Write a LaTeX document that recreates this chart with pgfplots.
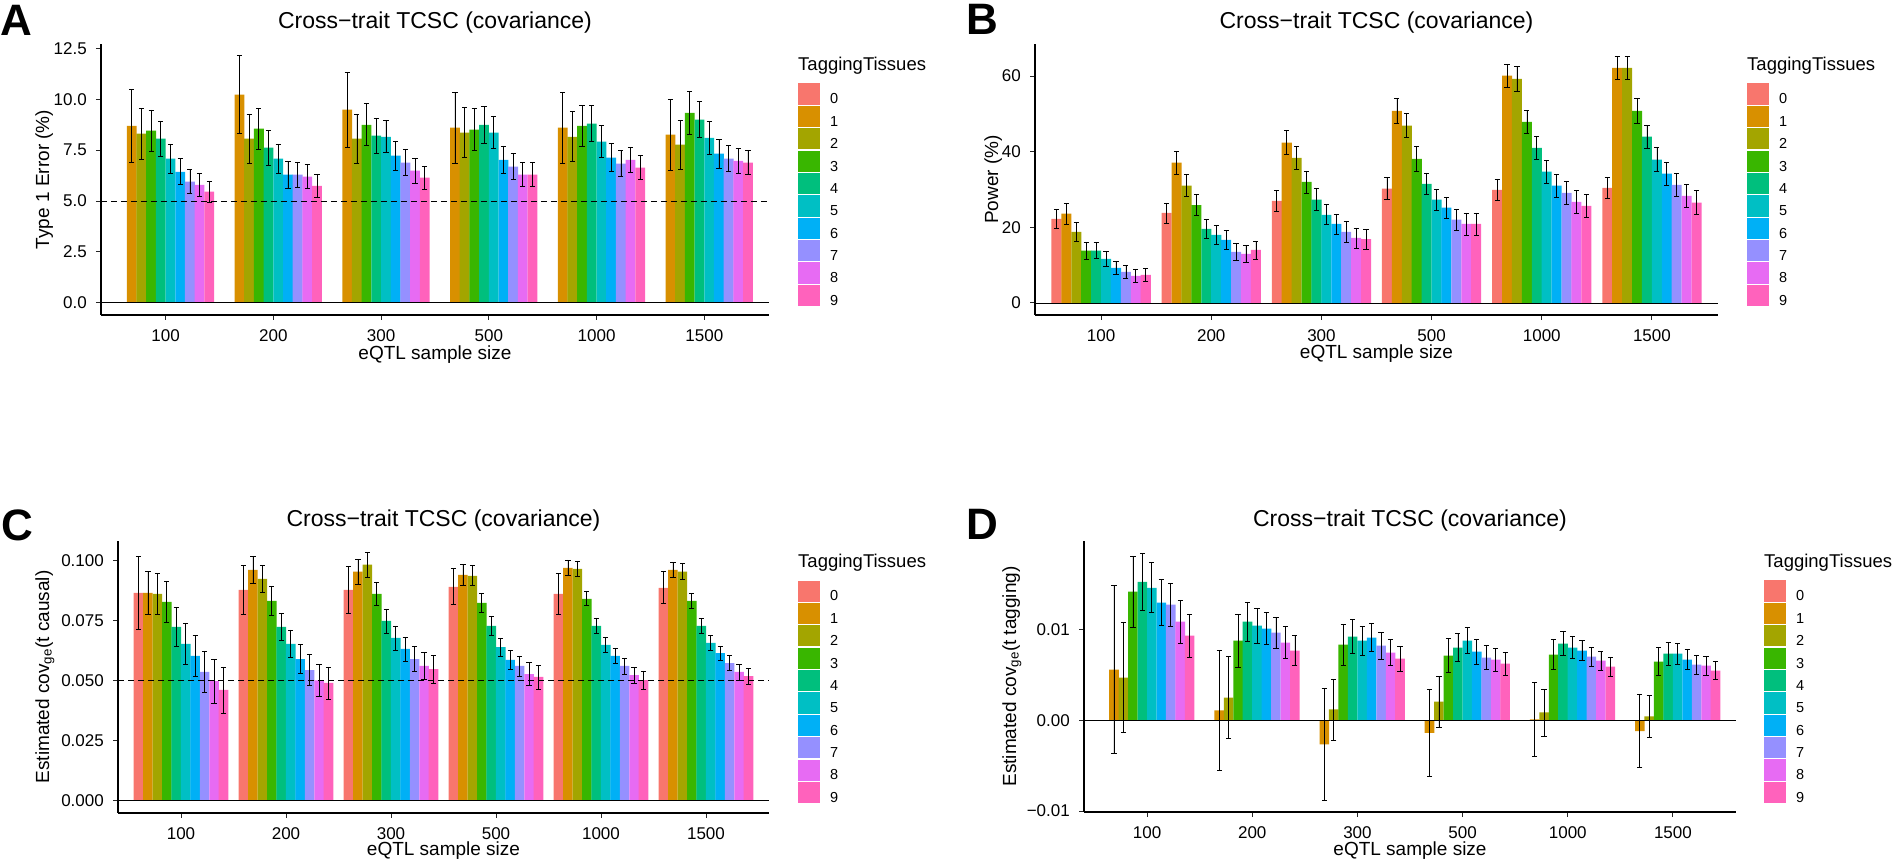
\documentclass[border=0pt]{standalone}
\usepackage{fontspec}
\setmainfont{Liberation Sans}
\usepackage{pgfplots}
\usepackage{pgfplotstable}
\pgfplotsset{compat=1.18}
\definecolor{c0}{HTML}{F8766D}
\definecolor{c1}{HTML}{D89000}
\definecolor{c2}{HTML}{A3A500}
\definecolor{c3}{HTML}{39B600}
\definecolor{c4}{HTML}{00BF7D}
\definecolor{c5}{HTML}{00BFC4}
\definecolor{c6}{HTML}{00B0F6}
\definecolor{c7}{HTML}{9590FF}
\definecolor{c8}{HTML}{E76BF3}
\definecolor{c9}{HTML}{FF62BC}
\newcommand\fT{\fontsize{23}{27}\selectfont}
\newcommand\fL{\fontsize{19}{22}\selectfont}
\newcommand\fK{\fontsize{17}{20}\selectfont}
\newcommand\fG{\fontsize{14.5}{17}\selectfont}
\newcommand\fH{\fontsize{18.5}{22}\selectfont}
\newcommand\fP{\fontsize{44}{50}\selectfont\bfseries}

\pgfplotstableread{
x y0 e0 y1 e1 y2 e2 y3 e3 y4 e4 y5 e5 y6 e6 y7 e7 y8 e8 y9 e9
1 nan nan 8.70 1.78 8.31 1.24 8.46 1.02 8.07 0.87 7.08 0.73 6.44 0.64 5.95 0.59 5.80 0.57 5.46 0.53
2 nan nan 10.23 1.91 8.07 1.21 8.56 1.00 7.62 0.86 7.08 0.73 6.30 0.67 6.30 0.62 6.20 0.59 5.75 0.57
3 nan nan 9.49 1.84 8.07 1.21 8.75 1.03 8.21 0.86 8.16 0.79 7.23 0.72 6.89 0.64 6.49 0.61 6.15 0.57
4 nan nan 8.61 1.75 8.36 1.23 8.51 1.03 8.75 0.89 8.36 0.79 7.03 0.68 6.69 0.64 6.30 0.59 6.30 0.59
5 nan nan 8.61 1.75 8.16 1.23 8.70 1.00 8.80 0.89 7.92 0.79 7.13 0.69 6.84 0.64 7.03 0.62 6.64 0.59
6 nan nan 8.26 1.75 7.77 1.21 9.34 1.06 9.00 0.89 8.11 0.79 7.33 0.72 7.08 0.64 6.98 0.62 6.89 0.59
}\dataA
\pgfplotstableread{
x y0 e0 y1 e1 y2 e2 y3 e3 y4 e4 y5 e5 y6 e6 y7 e7 y8 e8 y9 e9
1 22.2 2.56 23.6 2.7 18.8 2.56 13.8 2.25 13.8 2.1 11.65 1.95 9.27 1.8 8.2 1.7 7.15 1.7 7.4 1.8
2 23.8 2.65 37.1 3.0 31.0 2.9 25.9 2.8 19.6 2.5 18.0 2.5 16.7 2.5 13.5 2.2 13.0 2.3 14.0 2.4
3 27.0 2.8 42.4 3.2 38.4 3.0 32.0 2.9 27.3 2.9 23.3 2.65 20.9 2.65 18.8 2.65 17.2 2.65 16.9 2.65
4 30.2 2.9 50.8 3.2 46.9 3.2 38.1 3.2 31.5 2.9 27.3 2.8 25.2 2.8 22.0 2.8 20.9 2.9 20.9 2.9
5 29.9 2.9 60.1 3.1 59.3 3.2 47.9 3.1 41.0 3.0 34.7 3.0 31.0 3.0 29.1 3.0 26.7 3.0 25.7 3.0
6 30.4 2.8 62.2 3.0 62.2 3.05 50.8 3.2 44.0 3.1 37.9 3.2 34.2 3.0 31.2 3.1 28.3 3.0 26.5 3.2
}\dataB
\pgfplotstableread{
x y0 e0 y1 e1 y2 e2 y3 e3 y4 e4 y5 e5 y6 e6 y7 e7 y8 e8 y9 e9
1 0.0865 0.0153 0.0865 0.0088 0.0861 0.0086 0.0827 0.0084 0.0723 0.0081 0.0652 0.0084 0.0602 0.0086 0.0535 0.0086 0.0497 0.0092 0.0460 0.0096
2 0.0877 0.0103 0.0961 0.0056 0.0923 0.0056 0.0831 0.0059 0.0723 0.0056 0.0652 0.0058 0.0589 0.0061 0.0543 0.0065 0.0500 0.0067 0.0489 0.0067
3 0.0877 0.0098 0.0953 0.0052 0.0982 0.0052 0.0861 0.0048 0.0748 0.0050 0.0677 0.0050 0.0631 0.0050 0.0589 0.0052 0.0560 0.0056 0.0547 0.0058
4 0.0890 0.0075 0.0940 0.0044 0.0936 0.0042 0.0823 0.0038 0.0727 0.0040 0.0639 0.0038 0.0585 0.0040 0.0560 0.0042 0.0526 0.0048 0.0514 0.0050
5 0.0861 0.0086 0.0969 0.0033 0.0965 0.0033 0.0840 0.0029 0.0727 0.0033 0.0648 0.0033 0.0602 0.0033 0.0560 0.0033 0.0522 0.0033 0.0501 0.0038
6 0.0886 0.0067 0.0961 0.0033 0.0953 0.0033 0.0831 0.0030 0.0727 0.0031 0.0656 0.0031 0.0614 0.0029 0.0572 0.0031 0.0535 0.0033 0.0518 0.0033
}\dataC
\pgfplotstableread{
x y0 e0 y1 e1 y2 e2 y3 e3 y4 e4 y5 e5 y6 e6 y7 e7 y8 e8 y9 e9
1 nan nan 0.00561 0.00925 0.00473 0.00606 0.0142 0.00396 0.0153 0.00314 0.01464 0.00275 0.0130 0.00253 0.01277 0.00237 0.0109 0.00237 0.00936 0.00237
2 nan nan 0.0011 0.0066 0.00253 0.00451 0.00881 0.00292 0.0109 0.00217 0.01046 0.00193 0.01013 0.00176 0.00969 0.00171 0.00859 0.00176 0.00771 0.00165
3 nan nan -0.00264 0.00622 0.00121 0.00336 0.00837 0.00226 0.00925 0.00187 0.00881 0.0016 0.00914 0.00154 0.00826 0.00149 0.00749 0.00143 0.00683 0.00138
4 nan nan -0.00136 0.00483 0.00209 0.00281 0.00716 0.00187 0.00804 0.00154 0.00881 0.00143 0.0076 0.00138 0.00694 0.00134 0.00672 0.00127 0.00628 0.00127
5 nan nan 0.00011 0.00407 0.00088 0.00259 0.00727 0.00167 0.00848 0.00132 0.00804 0.00121 0.00771 0.0011 0.00705 0.00105 0.00661 0.00105 0.00594 0.00105
6 nan nan -0.00117 0.00402 0.00044 0.00231 0.0065 0.00154 0.00738 0.00127 0.00738 0.00116 0.00672 0.0011 0.00617 0.00105 0.00606 0.00105 0.0055 0.00099
}\dataD

\pgfplotsset{
  bs/.style={ybar, bar width=0.0912, bar shift=0pt, fill=#1, draw=none,
    error bars/.cd, y dir=both, y explicit,
    error bar style={line width=0.7pt, black},
    error mark options={rotate=90, line width=0.7pt, black, mark size=2.6pt}},
  panel/.style={
    scale only axis, anchor=south west,
    axis x line*=bottom, axis y line*=left,
    axis line style={-, line width=1.3pt, black},
    xmin=0.4, xmax=6.6,
    xtick={1,2,3,4,5,6}, xticklabels={100,200,300,500,1000,1500},
    tick align=outside, major tick length=5pt,
    tick style={line width=1pt, black!85},
    minor tick num=0,
    scaled x ticks=false, scaled y ticks=false,
    tick label style={font=\fK, inner sep=0pt},
    xticklabel style={anchor=north, yshift=-9pt},
    yticklabel style={anchor=east, xshift=-9pt},
    /pgf/number format/assume math mode=true,
    legend image code/.code={\path[draw=none, fill=none] (0pt,-5.6pt) rectangle (32pt,16.6pt); \fill[##1, draw=none] (0pt,-5.1pt) rectangle (22pt,16.1pt);},
    legend style={draw=none, fill=none, inner sep=0pt, outer sep=0pt, row sep=0pt, anchor=north west, font=\fG, nodes={inner sep=0pt, outer sep=0pt}},
    legend cell align=left,
    legend entries={0,1,2,3,4,5,6,7,8,9},
  },
}
\newcommand\legimgs{%
  \addlegendimage{fill=c0}\addlegendimage{fill=c1}\addlegendimage{fill=c2}\addlegendimage{fill=c3}\addlegendimage{fill=c4}%
  \addlegendimage{fill=c5}\addlegendimage{fill=c6}\addlegendimage{fill=c7}\addlegendimage{fill=c8}\addlegendimage{fill=c9}}

\begin{document}
\begin{tikzpicture}
\useasboundingbox (0,0) rectangle (1897pt,861pt);
% Panel A
\begin{axis}[panel, at={(101pt,546pt)}, width=668pt, height=271pt,
  ymin=-0.6, ymax=12.72, ytick={0,2.5,5,7.5,10,12.5}, yticklabels={0.0,2.5,5.0,7.5,10.0,12.5},
  legend style={at={(1.04341,0.85609)}}]
\legimgs
\pgfplotsinvokeforeach{1,...,9}{\addplot[bs=c#1] table[x expr=\thisrow{x}+(#1-4.5)*0.09,y=y#1,y error=e#1]{\dataA};}
\draw[line width=0.7pt] (axis cs:0.4,0) -- (axis cs:6.6,0);
\draw[line width=0.7pt, dash pattern=on 6pt off 4pt] (axis cs:0.4,5) -- (axis cs:6.6,5);
\end{axis}
% Panel B
\begin{axis}[panel, at={(1035pt,546pt)}, width=683pt, height=271pt,
  ymin=-3.2, ymax=68.5, ytick={0,20,40,60}, yticklabels={0,20,40,60},
  legend style={at={(1.04246,0.85609)}}]
\legimgs
\pgfplotsinvokeforeach{0,...,9}{\addplot[bs=c#1] table[x expr=\thisrow{x}+(#1-4.5)*0.09,y=y#1,y error=e#1]{\dataB};}
\draw[line width=0.7pt] (axis cs:0.4,0) -- (axis cs:6.6,0);
\end{axis}
% Panel C
\begin{axis}[panel, at={(118pt,48pt)}, width=651pt, height=272pt,
  ymin=-0.0053, ymax=0.1081, ytick={0,0.025,0.05,0.075,0.1}, yticklabels={0.000,0.025,0.050,0.075,0.100},
  legend style={at={(1.04455,0.8566)}}]
\legimgs
\pgfplotsinvokeforeach{0,...,9}{\addplot[bs=c#1] table[x expr=\thisrow{x}+(#1-4.5)*0.09,y=y#1,y error=e#1]{\dataC};}
\draw[line width=0.7pt] (axis cs:0.4,0) -- (axis cs:6.6,0);
\draw[line width=0.7pt, dash pattern=on 6pt off 4pt] (axis cs:0.4,0.05) -- (axis cs:6.6,0.05);
\end{axis}
% Panel D
\begin{axis}[panel, at={(1084pt,49pt)}, width=652pt, height=271pt,
  ymin=-0.0101, ymax=0.0198, ytick={-0.01,0,0.01}, yticklabels={−0.01,0.00,0.01},
  legend style={at={(1.04294,0.8561)}}]
\legimgs
\pgfplotsinvokeforeach{1,...,9}{\addplot[bs=c#1] table[x expr=\thisrow{x}+(#1-4.5)*0.09,y=y#1,y error=e#1]{\dataD};}
\draw[line width=0.7pt] (axis cs:0.4,0) -- (axis cs:6.6,0);
\end{axis}
% texts
\node[anchor=base west, font=\fP, inner sep=0pt] at (0pt,825pt) {A};
\node[anchor=base west, font=\fP, inner sep=0pt] at (966pt,826pt) {B};
\node[anchor=base west, font=\fP, inner sep=0pt] at (1pt,320pt) {C};
\node[anchor=base west, font=\fP, inner sep=0pt] at (966pt,321pt) {D};
\node[anchor=base, font=\fT, inner sep=0pt] at (435pt,832pt) {Cross−trait TCSC (covariance)};
\node[anchor=base, font=\fT, inner sep=0pt] at (1376.5pt,832pt) {Cross−trait TCSC (covariance)};
\node[anchor=base, font=\fT, inner sep=0pt] at (443.5pt,334pt) {Cross−trait TCSC (covariance)};
\node[anchor=base, font=\fT, inner sep=0pt] at (1410pt,334pt) {Cross−trait TCSC (covariance)};
\node[anchor=base, font=\fL, inner sep=0pt] at (435pt,501pt) {eQTL sample size};
\node[anchor=base, font=\fL, inner sep=0pt] at (1376.5pt,502pt) {eQTL sample size};
\node[anchor=base, font=\fL, inner sep=0pt] at (443.5pt,5pt) {eQTL sample size};
\node[anchor=base, font=\fL, inner sep=0pt] at (1410pt,5pt) {eQTL sample size};
\node[anchor=base, rotate=90, font=\fL, inner sep=0pt] at (49pt,681.5pt) {Type 1 Error (\%)};
\node[anchor=base, rotate=90, font=\fL, inner sep=0pt] at (998pt,681.5pt) {Power (\%)};
\node[anchor=base, rotate=90, font=\fL, inner sep=0pt] at (49pt,184pt) {Estimated cov\textsubscript{ge}(t causal)};
\node[anchor=base, rotate=90, font=\fL, inner sep=0pt] at (1016pt,184.5pt) {Estimated cov\textsubscript{ge}(t tagging)};
\node[anchor=base west, font=\fH, inner sep=0pt] at (798pt,790pt) {TaggingTissues};
\node[anchor=base west, font=\fH, inner sep=0pt] at (1747pt,790pt) {TaggingTissues};
\node[anchor=base west, font=\fH, inner sep=0pt] at (798pt,293pt) {TaggingTissues};
\node[anchor=base west, font=\fH, inner sep=0pt] at (1764pt,293pt) {TaggingTissues};
\end{tikzpicture}
\end{document}
